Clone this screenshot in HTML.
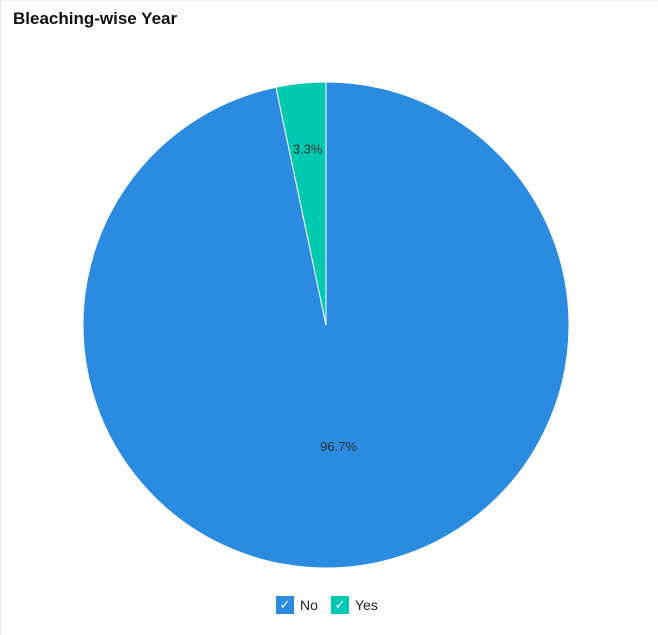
<!DOCTYPE html>
<html><head><meta charset="utf-8"><style>
body{margin:0;width:658px;height:635px;background:#fff;font-family:"Liberation Sans",sans-serif;overflow:hidden;position:relative}
#frame{position:absolute;left:0;top:0;width:657px;height:634px;border-left:1px solid #e6e8f0;border-top:1px solid #f0f0f0}
#title{position:absolute;left:13px;top:9px;font-size:17px;font-weight:bold;color:#111}
.leg{position:absolute;top:596px;height:18px;font-size:14px;color:#222;line-height:18px}
.box{display:inline-block;width:18px;height:18px;color:#fff;text-align:center;font-size:13px;vertical-align:top;margin-right:6px}
</style></head><body>
<div id="frame"></div>
<div id="title">Bleaching-wise Year</div>
<svg id="pie" width="658" height="635" style="position:absolute;left:0;top:0"></svg>
<div class="leg" style="left:276px"><span class="box" style="background:#2a8be0">✓</span>No</div>
<div class="leg" style="left:331px"><span class="box" style="background:#00c9b1">✓</span>Yes</div>
<script>
const categories=["No","Yes"];
const values=[96.7,3.3];
const labels=["96.7%","3.3%"];
const colors=["#2a8be0","#00c9b1"];
const svg=document.getElementById('pie');
const ns="http://www.w3.org/2000/svg";
const cx=326,cy=325,r=243;
const total=values.reduce((a,b)=>a+b,0);
let start=0;
function pt(f,rad){const a=f*2*Math.PI-Math.PI/2;return [cx+rad*Math.cos(a),cy+rad*Math.sin(a)];}
values.forEach((v,i)=>{
  const f0=start/total,f1=(start+v)/total;
  const [x0,y0]=pt(f0,r),[x1,y1]=pt(f1,r);
  const large=(f1-f0)>0.5?1:0;
  const p=document.createElementNS(ns,'path');
  p.setAttribute('d',`M${cx},${cy}L${x0},${y0}A${r},${r} 0 ${large} 1 ${x1},${y1}Z`);
  p.setAttribute('fill',colors[i]);p.setAttribute('stroke','#fff');p.setAttribute('stroke-width','1');
  
  
  svg.appendChild(p);
  const mid=(f0+f1)/2;
  const [tx,ty]=pt(mid,(f1-f0)>0.5?r*0.5:r*0.73);
  const t=document.createElementNS(ns,'text');
  t.setAttribute('x',tx);t.setAttribute('y',ty+5);t.setAttribute('text-anchor','middle');
  t.setAttribute('font-size','13');t.setAttribute('fill','#333');t.setAttribute('font-family','Liberation Sans, sans-serif');
  t.textContent=labels[i];
  
  
  svg.appendChild(t);
  start+=v;
});
</script>
</body></html>
